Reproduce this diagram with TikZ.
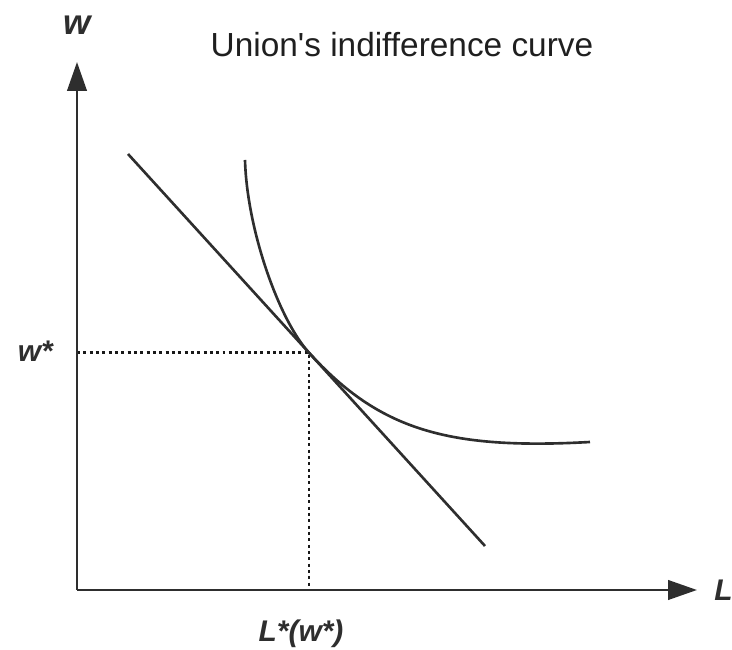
\documentclass[tikz,border=0pt]{standalone}
\usepackage{fontspec}
\setmainfont{Liberation Sans}
\usetikzlibrary{arrows.meta}
\usetikzlibrary{positioning}

\begin{document}
\begin{tikzpicture}[
  ink/.style={draw=black!82,line width=1.5pt},
  axis/.style={ink,-{Triangle[length=5.8mm,width=3.9mm]}},
  guide/.style={draw=black!90,line width=1.7pt,dash pattern=on 1.7pt off 1.9pt},
  lbl/.style={text=black!82,font=\fontsize{17}{20}\selectfont\bfseries\itshape,inner sep=0pt},
  heading/.style={text=black!88,font=\fontsize{19}{22}\selectfont,inner sep=0pt},
]
\useasboundingbox (-1.54,-1.2) rectangle (13.1,11.8);
\coordinate (O) at (0,0);
\coordinate (ytop) at (0,10.56);
\coordinate (xend) at (12.4,0);
\coordinate (T) at (4.64,4.745);
\coordinate (bstart) at (1.02,8.72);
\coordinate (bend) at (8.16,0.88);
\coordinate (ustart) at (3.36,8.6);
\coordinate (uend) at (10.26,2.96);

\draw[guide] (T -| O) -- (T) -- (T |- O);
\draw[axis] (O) -- (ytop);
\draw[axis] (O) -- (xend);
\draw[ink] (bstart) -- (bend);
\draw[ink] (ustart) .. controls (3.40,7.2) and (4.04,5.404) .. (T)
  .. controls (6.04,3.208) and (7.4,2.8) .. (uend);

\node[lbl,font=\fontsize{20}{22}\selectfont\bfseries\itshape] (wlab) at (0.01,11.3) {w};
\node[lbl,anchor=west] (Llab) at (12.74,0) {L};
\node[lbl,anchor=base east] (wstar) at (-0.48,4.56) {w*};
\node[lbl,anchor=base] (Lstar) at (4.48,-1.04) {L*(w*)};
\node[heading] (title) at (6.5,10.9) {Union\textquotesingle s indifference curve};
\end{tikzpicture}
\end{document}
